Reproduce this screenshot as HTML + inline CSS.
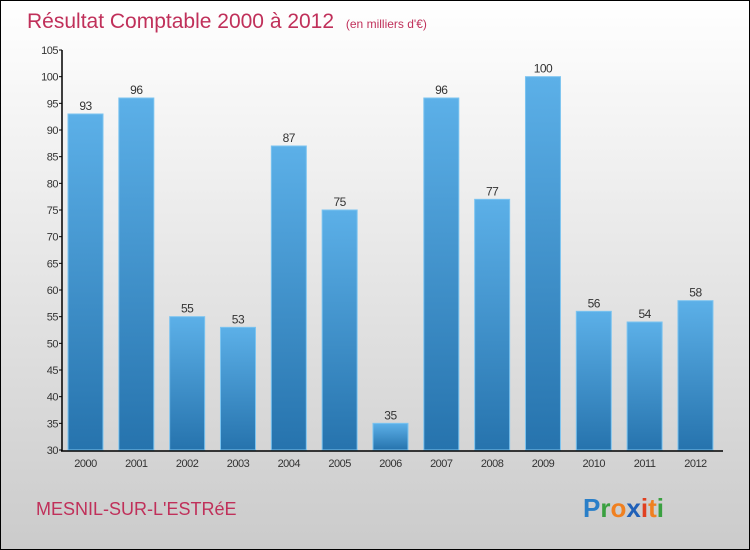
<!DOCTYPE html>
<html><head><meta charset="utf-8"><style>
html,body{margin:0;padding:0}
body{width:750px;height:550px;overflow:hidden;font-family:"Liberation Sans",sans-serif}
#wrap{position:absolute;left:0;top:0;width:748px;height:548px;border:1px solid #000;background:linear-gradient(#fff 0%,#f0f0f0 30%,#cbcbcb 100%)}
</style></head><body>
<div id="wrap">
<svg width="748" height="548" id="svg" style="position:absolute;left:0;top:0">
<defs><linearGradient id="bg" x1="0" y1="0" x2="0" y2="1"><stop offset="0" stop-color="#5cb0e8"/><stop offset="1" stop-color="#2673ad"/></linearGradient></defs>
<text x="26" y="27" font-size="21" fill="#c0305a">Résultat Comptable 2000 à 2012 <tspan font-size="12" dx="6">(en milliers d'€)</tspan></text>
<text x="35" y="514" font-size="18" fill="#c0305a">MESNIL-SUR-L'ESTRéE</text>
<text x="582" y="516" font-size="26" font-weight="bold"><tspan fill="#2a7fc8">P</tspan><tspan fill="#3aa040">r</tspan><tspan fill="#f08020">o</tspan><tspan fill="#2060b8">x</tspan><tspan fill="#e04020">i</tspan><tspan fill="#f08020">t</tspan><tspan fill="#3aa040">i</tspan></text>
<g id="g"></g>
</svg></div>
<script>
const categories=["2000","2001","2002","2003","2004","2005","2006","2007","2008","2009","2010","2011","2012"];
const values=[93,96,55,53,87,75,35,96,77,100,56,54,58];
const ticks=[30,35,40,45,50,55,60,65,70,75,80,85,90,95,100,105];
const NS="http://www.w3.org/2000/svg";
const g=document.getElementById('g');
const y0=449,y1=49,vmin=30,vmax=105;
const y=v=>y0-(v-vmin)/(vmax-vmin)*(y0-y1);
const x=i=>84.5+i*50.83;
function el(t,a){const e=document.createElementNS(NS,t);for(const k in a)e.setAttribute(k,a[k]);g.appendChild(e);return e;}
ticks.forEach(t=>{
 const l=el('line',{x1:58,x2:61,y1:y(t),y2:y(t),stroke:'#000'});
 
 
 const tx=el('text',{x:57,y:y(t)+4,'font-size':11,'text-anchor':'end',fill:'#333','letter-spacing':'-0.5'});
 tx.textContent=t;
 
 
});
categories.forEach((c,i)=>{
 const v=values[i];
 const r=el('rect',{x:x(i)-17.5,y:y(v),width:35,height:y0-y(v),fill:'url(#bg)',stroke:'#7cc4f0','stroke-width':1});
 
 
 const vt=el('text',{x:x(i),y:y(v)-4,'font-size':12,'text-anchor':'middle',fill:'#333','letter-spacing':'-0.5'});
 vt.textContent=v;
 
 
 const ct=el('text',{x:x(i),y:466,'font-size':11,'text-anchor':'middle',fill:'#333','letter-spacing':'-0.5'});
 ct.textContent=c;
 
 
});
const ya=el('line',{x1:61,x2:61,y1:49,y2:450,stroke:'#000','stroke-width':1.5});


const xa=el('line',{x1:60,x2:722,y1:450,y2:450,stroke:'#000','stroke-width':1.5});


</script>
</body></html>
